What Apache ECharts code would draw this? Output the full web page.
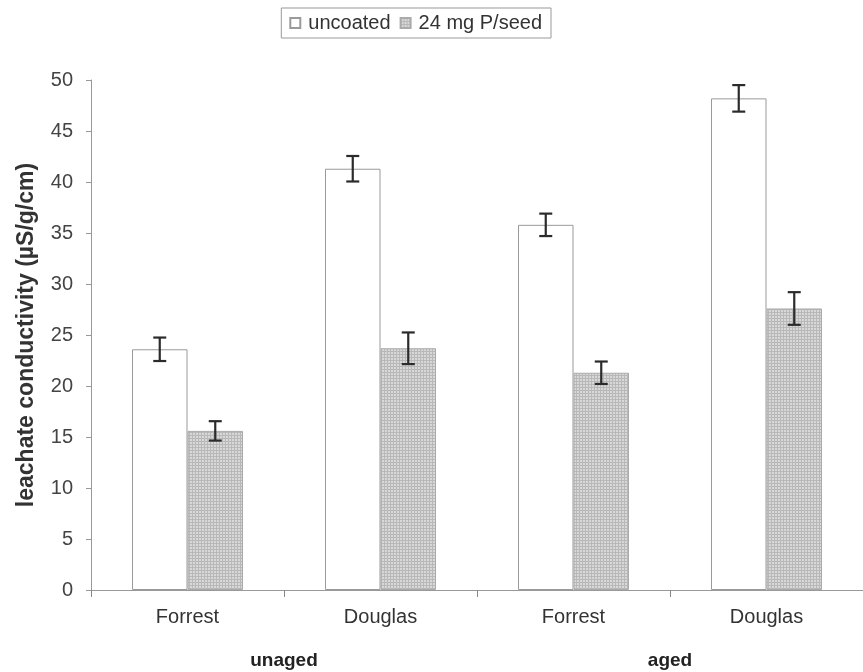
<!DOCTYPE html>
<html>
<head>
<meta charset="utf-8">
<script src="https://cdn.jsdelivr.net/npm/echarts@6/dist/echarts.min.js"></script>
<style>
  html, body { margin: 0; padding: 0; background: #fff; }
  #chart { width: 863px; height: 672px; }
</style>
</head>
<body>
<div id="chart"></div>
<script>
// Cultivars within each seed-age group
const categories = ['Forrest', 'Douglas', 'Forrest', 'Douglas'];
const groupLabels = ['unaged', 'aged'];
const seriesNames = ['uncoated', '24 mg P/seed'];

// Mean leachate conductivity (µS/g/cm) and standard errors
const uncoatedMean = [23.6, 41.3, 35.8, 48.2];
const uncoatedErr  = [1.15, 1.25, 1.1, 1.3];
const coatedMean   = [15.6, 23.7, 21.3, 27.6];
const coatedErr    = [0.95, 1.55, 1.1, 1.6];

const yTicks = { min: 0, max: 50, interval: 5 };

const FONT = "'Liberation Sans', Arial, sans-serif";
const BAR_W = 55.5;

// Stippled grey fill for the coated bars
function stipple() {
  const c = document.createElement('canvas');
  c.width = 3; c.height = 3;
  const g = c.getContext('2d');
  g.fillStyle = '#d8d8d8';
  g.fillRect(0, 0, 3, 3);
  g.fillStyle = '#b8b8b8';
  g.fillRect(0, 0, 3, 1);
  g.fillRect(0, 0, 1, 3);
  return c;
}
const greyFill = { image: stipple(), repeat: 'repeat' };

function errorSeries(name, means, errs, side) {
  return {
    type: 'custom',
    name: name + ' error',
    xAxisIndex: 0,
    yAxisIndex: 0,
    silent: true,
    z: 10,
    data: means.map((m, i) => [i, m, errs[i]]),
    renderItem: function (params, api) {
      const i = api.value(0), m = api.value(1), e = api.value(2);
      const top = api.coord([i, m + e]);
      const bot = api.coord([i, m - e]);
      const x = top[0] + side * BAR_W / 2;
      const cap = 6.5;
      const st = { stroke: '#2b2b2b', lineWidth: 2.2 };
      return {
        type: 'group',
        children: [
          { type: 'line', shape: { x1: x, y1: top[1], x2: x, y2: bot[1] }, style: st },
          { type: 'line', shape: { x1: x - cap, y1: top[1], x2: x + cap, y2: top[1] }, style: st },
          { type: 'line', shape: { x1: x - cap, y1: bot[1], x2: x + cap, y2: bot[1] }, style: st }
        ]
      };
    }
  };
}

const chart = echarts.init(document.getElementById('chart'), null, { renderer: 'canvas' });

chart.setOption({
  animation: false,
  backgroundColor: '#fff',
  textStyle: { fontFamily: FONT },
  legend: {
    data: seriesNames,
    icon: 'rect',
    right: 312,
    top: 8,
    itemWidth: 10,
    itemHeight: 10,
    itemGap: 9,
    padding: [5, 9, 5, 8],
    borderColor: '#999',
    borderWidth: 1,
    textStyle: { fontFamily: FONT, fontSize: 20, color: '#333', padding: [0, 0, 0, 3] }
  },
  grid: { left: 91, top: 80, width: 778, height: 510, containLabel: false },
  xAxis: [
    {
      type: 'category',
      data: categories,
      axisLine: { lineStyle: { color: '#999', width: 1 } },
      axisTick: { show: true, length: 7, lineStyle: { color: '#888' } },
      axisLabel: { fontFamily: FONT, fontSize: 20, color: '#333', margin: 17 }
    },
    {
      type: 'category',
      data: groupLabels,
      position: 'bottom',
      axisLine: { show: false },
      axisTick: { show: false },
      axisLabel: { fontFamily: FONT, fontSize: 19, fontWeight: 'bold', color: '#222', margin: 61, interval: 0 }
    }
  ],
  yAxis: {
    type: 'value',
    min: yTicks.min,
    max: yTicks.max,
    interval: yTicks.interval,
    name: 'leachate conductivity (\u00b5S/g/cm)',
    nameLocation: 'middle',
    nameGap: 53,
    nameTextStyle: { fontFamily: FONT, fontSize: 23, fontWeight: 'bold', color: '#333' },
    axisLine: { show: true, lineStyle: { color: '#999', width: 1 } },
    axisTick: { show: true, length: 5, lineStyle: { color: '#999' } },
    splitLine: { show: false },
    axisLabel: { fontFamily: FONT, fontSize: 20, color: '#444', margin: 18 }
  },
  series: [
    {
      name: seriesNames[0],
      type: 'bar',
      data: uncoatedMean,
      barWidth: BAR_W,
      barGap: '0%',
      itemStyle: { color: '#ffffff', borderColor: '#9a9a9a', borderWidth: 1 }
    },
    {
      name: seriesNames[1],
      type: 'bar',
      data: coatedMean,
      barWidth: BAR_W,
      barGap: '0%',
      itemStyle: { color: greyFill, borderColor: '#aaaaaa', borderWidth: 1 }
    },
    errorSeries(seriesNames[0], uncoatedMean, uncoatedErr, -1),
    errorSeries(seriesNames[1], coatedMean, coatedErr, 1)
  ]
});
</script>
</body>
</html>
